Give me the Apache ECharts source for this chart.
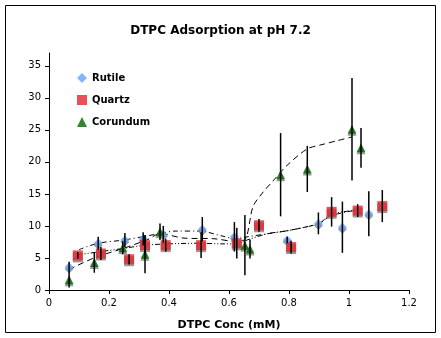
<!DOCTYPE html>
<html><head><meta charset="utf-8">
<script src="https://cdn.jsdelivr.net/npm/echarts@6/dist/echarts.min.js"></script>
<style>html,body{margin:0;padding:0;background:#fff}#c{width:441px;height:338px}</style>
</head><body><div id="c"></div>
<script>
// Rutile
const rutileX   = [0.067, 0.164, 0.253, 0.314, 0.381, 0.511, 0.618, 0.794, 0.898, 0.978, 1.066];
const rutileY   = [3.6, 7.3, 7.8, 8.0, 8.7, 9.5, 8.3, 7.8, 10.4, 9.8, 11.9];
const rutileErr = [0.8, 1.0, 1.1, 1.0, 1.3, 1.9, 2.3, 0.5, 1.7, 4.0, 3.5];
// Quartz
const quartzX   = [0.096, 0.173, 0.267, 0.320, 0.389, 0.507, 0.626, 0.700, 0.807, 0.942, 1.029, 1.111];
const quartzY   = [5.4, 5.7, 4.8, 7.0, 7.0, 7.0, 7.3, 10.1, 6.7, 12.2, 12.4, 13.1];
const quartzErr = [0.5, 1.0, 0.8, 1.5, 1.0, 2.0, 2.4, 1.0, 1.0, 2.3, 1.0, 2.5];
// Corundum
const corX   = [0.067, 0.151, 0.246, 0.320, 0.370, 0.653, 0.670, 0.772, 0.861, 1.010, 1.040];
const corY   = [1.6, 4.3, 6.6, 5.6, 9.1, 7.0, 6.4, 18.0, 18.9, 25.1, 22.2];
const corErr = [1.2, 1.6, 1.0, 3.0, 1.3, 4.7, 1.5, 6.5, 3.6, 8.0, 3.1];
// Trend curves
const corTrendX = [0.067, 0.15, 0.26, 0.33, 0.37, 0.45, 0.55, 0.62, 0.655, 0.68, 0.714, 0.75, 0.79, 0.86, 0.91, 0.96, 1.01];
const corTrendY = [3.2, 5.0, 6.7, 7.9, 8.8, 8.1, 8.0, 7.6, 8.0, 13.0, 15.3, 17.2, 19.3, 22.0, 22.7, 23.3, 23.9];
const rutTrendX = [0.10, 0.164, 0.25, 0.31, 0.38, 0.42, 0.50, 0.58, 0.62, 0.66, 0.73, 0.80, 0.90, 0.94, 1.03];
const rutTrendY = [6.3, 7.3, 7.8, 8.3, 8.9, 9.2, 9.2, 8.4, 8.0, 8.3, 8.8, 9.3, 10.4, 11.6, 12.5];
const qtzTrendX = [0.096, 0.173, 0.25, 0.32, 0.40, 0.50, 0.58, 0.63, 0.66, 0.73, 0.80, 0.90, 0.94, 1.03];
const qtzTrendY = [5.5, 6.0, 6.5, 7.0, 7.2, 7.3, 7.2, 7.2, 7.8, 8.8, 9.3, 10.4, 11.8, 12.5];
const yTicks = [0, 5, 10, 15, 20, 25, 30, 35];

const zip = (a, b, c) => a.map((v, i) => c ? [v, b[i], c[i]] : [v, b[i]]);
const FONT = 'DejaVu Sans';
const shadow = {shadowColor: '#808080', shadowOffsetX: 0, shadowOffsetY: 2, shadowBlur: 0};

function errSeries(name, x, y, e) {
  return {
    type: 'custom', name: name + 'err', z: 5,
    data: zip(x, y, e),
    encode: {x: 0, y: 1},
    renderItem: function (params, api) {
      const xv = api.value(0), yv = api.value(1), ev = api.value(2);
      const p1 = api.coord([xv, yv - ev]), p2 = api.coord([xv, yv + ev]);
      return {type: 'line', shape: {x1: p1[0], y1: p1[1], x2: p2[0], y2: p2[1]},
              style: {stroke: '#000', lineWidth: 1.5}};
    }
  };
}
function trend(x, y, dash) {
  return {type: 'line', data: zip(x, y), showSymbol: false, symbol: 'none', smooth: 0.3,
          lineStyle: {color: '#000', width: 1, type: dash}, z: 3, silent: true};
}

const chart = echarts.init(document.getElementById('c'));
chart.setOption({
  animation: false,
  backgroundColor: '#fff',
  title: {text: 'DTPC Adsorption at pH 7.2', left: 'center', top: 20,
          textStyle: {fontFamily: FONT, fontSize: 12, fontWeight: 'bold', color: '#000'}},
  graphic: [{type: 'rect', shape: {x: 5.5, y: 5.5, width: 430, height: 327},
             style: {fill: 'none', stroke: '#000', lineWidth: 1}, silent: true}],
  legend: {
    orient: 'vertical', left: 72, top: 68, itemGap: 12, itemWidth: 10, itemHeight: 10,
    textStyle: {fontFamily: FONT, fontSize: 10, fontWeight: 'bold', color: '#000'},
    data: [{name: 'Rutile', icon: 'diamond'}, {name: 'Quartz', icon: 'rect'}, {name: 'Corundum', icon: 'triangle'}]
  },
  grid: {left: 49, right: 32, top: 53, bottom: 48, containLabel: false},
  xAxis: {
    type: 'value', min: 0, max: 1.2, interval: 0.2,
    name: 'DTPC Conc (mM)', nameLocation: 'middle', nameGap: 30,
    nameTextStyle: {fontFamily: FONT, fontSize: 11, fontWeight: 'bold', color: '#000'},
    axisLine: {lineStyle: {color: '#000', width: 1}},
    axisTick: {show: true, inside: false, length: 4, lineStyle: {color: '#000'}},
    axisLabel: {fontFamily: FONT, fontSize: 10, color: '#000', margin: 8},
    splitLine: {show: false}
  },
  yAxis: {
    type: 'value', min: 0, max: 37, interval: 5,
    axisLine: {show: true, lineStyle: {color: '#000', width: 1}},
    axisTick: {show: true, length: 4, lineStyle: {color: '#000'}, customValues: yTicks},
    axisLabel: {fontFamily: FONT, fontSize: 10, color: '#000', margin: 8, customValues: yTicks},
    splitLine: {show: false}
  },
  series: [
    trend(corTrendX, corTrendY, [6, 4]),
    trend(rutTrendX, rutTrendY, [5, 3, 1, 3]),
    trend(qtzTrendX, qtzTrendY, [5, 2, 1, 2, 1, 2]),
    {name: 'Rutile', type: 'scatter', symbol: 'diamond', symbolSize: 9, data: zip(rutileX, rutileY), z: 4,
     itemStyle: Object.assign({color: '#66A3FF'}, shadow)},
    {name: 'Quartz', type: 'scatter', symbol: 'rect', symbolSize: 10, data: zip(quartzX, quartzY), z: 4,
     itemStyle: Object.assign({color: '#E3262E'}, shadow)},
    {name: 'Corundum', type: 'scatter', symbol: 'triangle', symbolSize: 9, data: zip(corX, corY), z: 4,
     itemStyle: Object.assign({color: '#006600'}, shadow)},
    errSeries('Rutile', rutileX, rutileY, rutileErr),
    errSeries('Quartz', quartzX, quartzY, quartzErr),
    errSeries('Corundum', corX, corY, corErr)
  ]
});
</script></body></html>
